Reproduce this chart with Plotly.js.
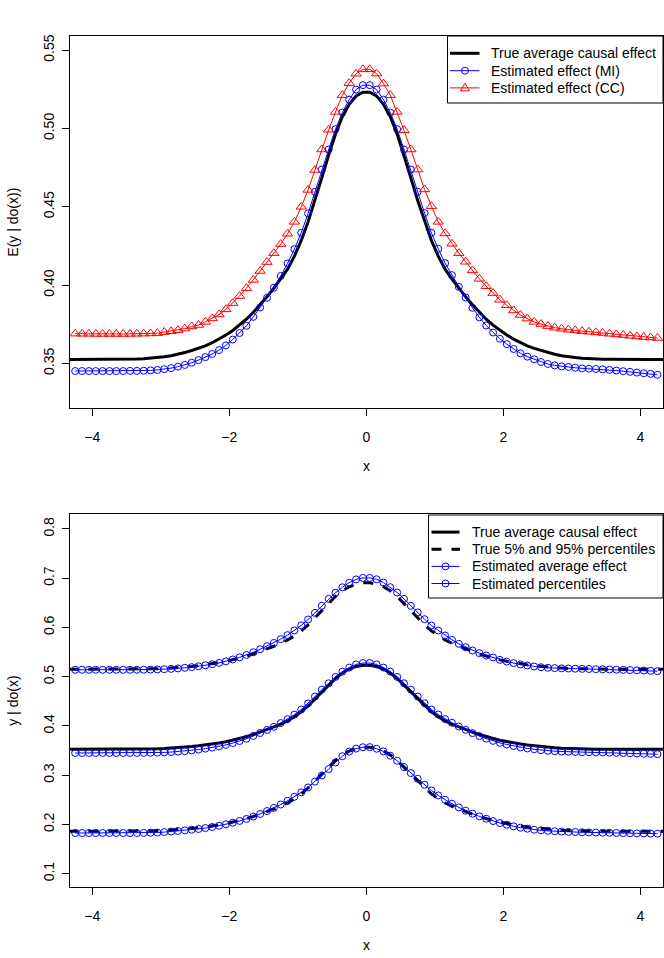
<!DOCTYPE html>
<html>
<head>
<meta charset="utf-8">
<script src="https://cdn.plot.ly/plotly-3.0.1.min.js"></script>
<style>
  body { margin: 0; background: #fff; }
  #chart { width: 664px; height: 958px; }
</style>
</head>
<body>
<div id="chart"></div>
<script>
// x positions: estimates every 0.1 from -4.25 to 4.25, true curves a bit wider
const xEst = [];
for (let i = 0; i < 86; i++) xEst.push(+(-4.25 + 0.1 * i).toFixed(2));
const xTrue = [];
for (let i = 0; i < 88; i++) xTrue.push(+(-4.35 + 0.1 * i).toFixed(2));

// true average causal effect (both panels)
const trueMean = [
  0.3525, 0.3525, 0.3525, 0.3525, 0.3525, 0.3525, 0.3525, 0.3525, 0.3526, 0.3527,
  0.3528, 0.3530, 0.3533, 0.3537, 0.3542, 0.3549, 0.3558, 0.3569, 0.3582, 0.3596,
  0.3612, 0.3632, 0.3655, 0.3681, 0.3710, 0.3744, 0.3782, 0.3826, 0.3874, 0.3925,
  0.3980, 0.4038, 0.4102, 0.4185, 0.4285, 0.4405, 0.4540, 0.4685, 0.4830, 0.4965,
  0.5075, 0.5155, 0.5208, 0.5232,
  0.5232, 0.5208, 0.5155, 0.5075, 0.4965, 0.4830, 0.4685, 0.4540, 0.4405, 0.4285,
  0.4185, 0.4102, 0.4038, 0.3980, 0.3925, 0.3874, 0.3826, 0.3782, 0.3744, 0.3710,
  0.3681, 0.3655, 0.3632, 0.3612, 0.3596, 0.3582, 0.3569, 0.3558, 0.3549, 0.3542,
  0.3537, 0.3533, 0.3530, 0.3528, 0.3527, 0.3526, 0.3525, 0.3525, 0.3525, 0.3525,
  0.3525, 0.3525, 0.3525, 0.3525
];

// estimated effect, multiple imputation (also "Estimated average effect" below)
const estMI = [
  0.3451, 0.3451, 0.3451, 0.3451, 0.3451, 0.3451, 0.3451, 0.3451, 0.3452, 0.3452,
  0.3453, 0.3455, 0.3458, 0.3463, 0.3470, 0.3479, 0.3490, 0.3504, 0.3521, 0.3540,
  0.3560, 0.3585, 0.3615, 0.3652, 0.3694, 0.3740, 0.3797, 0.3857, 0.3919, 0.3983,
  0.4058, 0.4138, 0.4230, 0.4334, 0.4458, 0.4596, 0.4738, 0.4866, 0.4996, 0.5102,
  0.5185, 0.5249, 0.5277,
  0.5277, 0.5249, 0.5185, 0.5102, 0.4996, 0.4866, 0.4738, 0.4596, 0.4460, 0.4334,
  0.4232, 0.4140, 0.4064, 0.3989, 0.3921, 0.3855, 0.3794, 0.3742, 0.3697, 0.3657,
  0.3623, 0.3592, 0.3564, 0.3543, 0.3526, 0.3509, 0.3496, 0.3487, 0.3481, 0.3477,
  0.3472, 0.3468, 0.3466, 0.3464, 0.3462, 0.3458, 0.3454, 0.3450, 0.3446, 0.3441,
  0.3437, 0.3433, 0.3427
];

// estimated effect, complete cases
const estCC = [
  0.3690, 0.3689, 0.3689, 0.3688, 0.3688, 0.3688, 0.3688, 0.3688, 0.3688, 0.3689,
  0.3690, 0.3691, 0.3693, 0.3700, 0.3705, 0.3712, 0.3722, 0.3736, 0.3745, 0.3765,
  0.3787, 0.3812, 0.3845, 0.3885, 0.3930, 0.3980, 0.4033, 0.4090, 0.4147, 0.4204,
  0.4262, 0.4328, 0.4404, 0.4500, 0.4608, 0.4735, 0.4866, 0.4992, 0.5106, 0.5213,
  0.5290, 0.5350, 0.5378,
  0.5378, 0.5351, 0.5287, 0.5213, 0.5106, 0.4989, 0.4866, 0.4738, 0.4611, 0.4504,
  0.4404, 0.4330, 0.4264, 0.4204, 0.4149, 0.4094, 0.4040, 0.3993, 0.3949, 0.3906,
  0.3871, 0.3838, 0.3809, 0.3786, 0.3765, 0.3751, 0.3738, 0.3728, 0.3721, 0.3715,
  0.3711, 0.3706, 0.3702, 0.3698, 0.3694, 0.3689, 0.3685, 0.3681, 0.3676, 0.3672,
  0.3668, 0.3665, 0.3662
];

// true 5% and 95% percentiles
const true95 = [
  0.5150, 0.5150, 0.5150, 0.5150, 0.5150, 0.5150, 0.5150, 0.5150, 0.5151, 0.5152,
  0.5153, 0.5155, 0.5158, 0.5162, 0.5167, 0.5174, 0.5183, 0.5194, 0.5208, 0.5223,
  0.5240, 0.5261, 0.5285, 0.5312, 0.5342, 0.5377, 0.5416, 0.5461, 0.5510, 0.5562,
  0.5618, 0.5678, 0.5744, 0.5828, 0.5930, 0.6052, 0.6190, 0.6337, 0.6484, 0.6632,
  0.6744, 0.6826, 0.6880, 0.6905,
  0.6905, 0.6880, 0.6826, 0.6744, 0.6632, 0.6484, 0.6337, 0.6190, 0.6052, 0.5930,
  0.5828, 0.5744, 0.5678, 0.5618, 0.5562, 0.5510, 0.5461, 0.5416, 0.5377, 0.5342,
  0.5312, 0.5285, 0.5261, 0.5240, 0.5223, 0.5208, 0.5194, 0.5183, 0.5174, 0.5167,
  0.5162, 0.5158, 0.5155, 0.5153, 0.5152, 0.5151, 0.5150, 0.5150, 0.5150, 0.5150,
  0.5150, 0.5150, 0.5150, 0.5150
];
const true05 = [
  0.1860, 0.1860, 0.1860, 0.1860, 0.1860, 0.1860, 0.1860, 0.1860, 0.1861, 0.1862,
  0.1863, 0.1865, 0.1868, 0.1872, 0.1877, 0.1884, 0.1893, 0.1904, 0.1917, 0.1931,
  0.1947, 0.1967, 0.1990, 0.2016, 0.2045, 0.2079, 0.2117, 0.2161, 0.2209, 0.2260,
  0.2315, 0.2373, 0.2437, 0.2520, 0.2620, 0.2740, 0.2875, 0.3020, 0.3165, 0.3300,
  0.3410, 0.3490, 0.3543, 0.3567,
  0.3567, 0.3543, 0.3490, 0.3410, 0.3300, 0.3165, 0.3020, 0.2875, 0.2740, 0.2620,
  0.2520, 0.2437, 0.2373, 0.2315, 0.2260, 0.2209, 0.2161, 0.2117, 0.2079, 0.2045,
  0.2016, 0.1990, 0.1967, 0.1947, 0.1931, 0.1917, 0.1904, 0.1893, 0.1884, 0.1877,
  0.1872, 0.1868, 0.1865, 0.1863, 0.1862, 0.1861, 0.1860, 0.1860, 0.1860, 0.1860,
  0.1860, 0.1860, 0.1860, 0.1860
];

// estimated percentiles
const est95 = [
  0.5141, 0.5140, 0.5140, 0.5140, 0.5140, 0.5140, 0.5140, 0.5140, 0.5140, 0.5141,
  0.5142, 0.5144, 0.5147, 0.5152, 0.5159, 0.5168, 0.5180, 0.5194, 0.5211, 0.5231,
  0.5253, 0.5280, 0.5312, 0.5350, 0.5393, 0.5440, 0.5496, 0.5557, 0.5620, 0.5685,
  0.5762, 0.5844, 0.5938, 0.6042, 0.6162, 0.6296, 0.6440, 0.6580, 0.6705, 0.6815,
  0.6908, 0.6975, 0.7005,
  0.7005, 0.6978, 0.6911, 0.6817, 0.6709, 0.6580, 0.6438, 0.6303, 0.6167, 0.6039,
  0.5937, 0.5836, 0.5748, 0.5667, 0.5599, 0.5532, 0.5478, 0.5430, 0.5390, 0.5342,
  0.5308, 0.5275, 0.5248, 0.5227, 0.5207, 0.5192, 0.5181, 0.5174, 0.5169, 0.5166,
  0.5162, 0.5159, 0.5156, 0.5153, 0.5150, 0.5146, 0.5142, 0.5138, 0.5134, 0.5129,
  0.5124, 0.5118, 0.5112
];
const est05 = [
  0.1826, 0.1826, 0.1826, 0.1826, 0.1826, 0.1826, 0.1826, 0.1826, 0.1826, 0.1826,
  0.1828, 0.1831, 0.1836, 0.1845, 0.1856, 0.1868, 0.1880, 0.1893, 0.1908, 0.1926,
  0.1948, 0.1974, 0.2003, 0.2035, 0.2071, 0.2112, 0.2160, 0.2213, 0.2272, 0.2336,
  0.2405, 0.2480, 0.2562, 0.2652, 0.2752, 0.2870, 0.2995, 0.3125, 0.3260, 0.3385,
  0.3480, 0.3540, 0.3568,
  0.3570, 0.3537, 0.3483, 0.3395, 0.3293, 0.3165, 0.3043, 0.2928, 0.2806, 0.2691,
  0.2590, 0.2502, 0.2421, 0.2346, 0.2279, 0.2218, 0.2164, 0.2116, 0.2069, 0.2029,
  0.1995, 0.1961, 0.1934, 0.1914, 0.1893, 0.1880, 0.1870, 0.1862, 0.1855, 0.1849,
  0.1845, 0.1841, 0.1838, 0.1835, 0.1832, 0.1830, 0.1827, 0.1824, 0.1822, 0.1819,
  0.1817, 0.1814, 0.1812
];

const xTicks = [-4, -2, 0, 2, 4];
const topLegend = ['True average causal effect', 'Estimated effect (MI)', 'Estimated effect (CC)'];
const bottomLegend = ['True average causal effect', 'True 5% and 95% percentiles',
                      'Estimated average effect', 'Estimated percentiles'];

const FONT = 'Liberation Sans, Arial, sans-serif';
const BLUE = '#0000ff';
const RED = '#ff0000';
const W = 664, H = 958;
const M = { l: 70, r: 1, t: 36, b: 71 };

function estTrace(y, name, symbol, color, xa, ya) {
    return {
        x: xEst, y: y, name: name, type: 'scatter', mode: 'lines+markers',
        xaxis: xa, yaxis: ya, showlegend: false,
        line: { color: color, width: 1 },
        marker: { symbol: symbol, size: symbol.startsWith('triangle') ? 9 : 7,
                  color: color, line: { color: color, width: 1 } }
    };
}

const traces = [
    // top panel
    { x: xTrue, y: trueMean, name: topLegend[0], type: 'scatter', mode: 'lines',
      xaxis: 'x', yaxis: 'y', showlegend: false, line: { color: 'black', width: 3 } },
    estTrace(estMI, topLegend[1], 'circle-open', BLUE, 'x', 'y'),
    estTrace(estCC, topLegend[2], 'triangle-up-open', RED, 'x', 'y'),

    // bottom panel
    { x: xTrue, y: trueMean, name: bottomLegend[0], type: 'scatter', mode: 'lines',
      xaxis: 'x2', yaxis: 'y2', showlegend: false, line: { color: 'black', width: 3 } },
    { x: xTrue, y: true95, name: bottomLegend[1], type: 'scatter', mode: 'lines',
      xaxis: 'x2', yaxis: 'y2', showlegend: false,
      line: { color: 'black', width: 3, dash: '10px,10px' } },
    { x: xTrue, y: true05, name: bottomLegend[1], type: 'scatter', mode: 'lines',
      xaxis: 'x2', yaxis: 'y2', showlegend: false,
      line: { color: 'black', width: 3, dash: '10px,10px' } },
    estTrace(estMI, bottomLegend[2], 'circle-open', BLUE, 'x2', 'y2'),
    estTrace(est95, bottomLegend[3], 'circle-open', BLUE, 'x2', 'y2'),
    estTrace(est05, bottomLegend[3], 'circle-open', BLUE, 'x2', 'y2')
];

function xAxis(anchor) {
    return {
        anchor: anchor, range: [-4.326, 4.331], tickvals: xTicks,
        showline: true, mirror: true, linecolor: 'black', linewidth: 1,
        ticks: 'outside', ticklen: 7, tickcolor: 'black', tickwidth: 1, ticklabelstandoff: 9,
        showgrid: false, zeroline: false,
        tickfont: { size: 14, color: 'black' },
        title: { text: 'x', font: { size: 14, color: 'black' }, standoff: 17 }
    };
}

function yAxis(anchor, domain, range, dtick, fmt, title) {
    return {
        anchor: anchor, domain: domain, range: range, dtick: dtick, tick0: 0, tickformat: fmt,
        showline: true, mirror: true, linecolor: 'black', linewidth: 1,
        ticks: 'outside', ticklen: 7, tickcolor: 'black', tickwidth: 1, tickangle: -90,
        ticklabelstandoff: 2, showgrid: false, zeroline: false,
        tickfont: { size: 14, color: 'black' },
        title: { text: title, font: { size: 14, color: 'black' }, standoff: 19 }
    };
}

// pixel -> paper helpers for the hand-drawn (R style) legend boxes
const pw = W - M.l - M.r, ph = H - M.t - M.b;
const px = v => (v - M.l) / pw;
const py = v => (H - M.b - v) / ph;

const shapes = [];
const annotations = [];

function legendBox(left, top, bottom) {
    shapes.push({ type: 'rect', xref: 'paper', yref: 'paper', layer: 'above',
                  x0: px(left), x1: px(W - M.r), y0: py(bottom), y1: py(top),
                  fillcolor: 'white', line: { color: 'black', width: 1 } });
}
function legendLine(x0, x1, y, color, width, dash) {
    shapes.push({ type: 'line', xref: 'paper', yref: 'paper', layer: 'above',
                  x0: px(x0), x1: px(x1), y0: py(y), y1: py(y),
                  line: { color: color, width: width, dash: dash || 'solid' } });
}
function legendSymbol(cx, cy, kind, color) {
    const s = { xref: 'paper', yref: 'paper', layer: 'above', xsizemode: 'pixel', ysizemode: 'pixel',
                xanchor: px(cx), yanchor: py(cy), line: { color: color, width: 1 },
                fillcolor: 'rgba(0,0,0,0)' };
    if (kind === 'circle') Object.assign(s, { type: 'circle', x0: -3.5, x1: 3.5, y0: -3.5, y1: 3.5 });
    else Object.assign(s, { type: 'path', path: 'M-4.5,-3 L4.5,-3 L0,4.8 Z' });
    shapes.push(s);
}
function legendText(x, y, text) {
    annotations.push({ xref: 'paper', yref: 'paper', x: px(x), y: py(y), xanchor: 'left', yanchor: 'middle',
                       text: text, showarrow: false, font: { family: FONT, size: 14, color: 'black' } });
}

// top legend
legendBox(447.5, 36, 103);
[53.3, 70.7, 87.9].forEach((y, i) => {
    if (i === 0) legendLine(450, 479.5, y, 'black', 3);
    else {
        const c = i === 1 ? BLUE : RED;
        legendLine(450, 479.5, y, c, 1);
        legendSymbol(465, y, i === 1 ? 'circle' : 'triangle', c);
    }
    legendText(489, y, topLegend[i]);
});

// bottom legend
legendBox(428.5, 515, 598);
[532.1, 549.3, 566.4, 583.5].forEach((y, i) => {
    if (i === 0) legendLine(431.5, 459.5, y, 'black', 3);
    else if (i === 1) legendLine(431.5, 460, y, 'black', 3, '10px,10px');
    else {
        legendLine(431.5, 459.5, y, BLUE, 1);
        legendSymbol(445.5, y, 'circle', BLUE);
    }
    legendText(470, y, bottomLegend[i]);
});

const layout = {
    width: W, height: H,
    margin: M,
    paper_bgcolor: 'white', plot_bgcolor: 'white',
    font: { family: FONT, size: 14, color: 'black' },
    showlegend: false,
    xaxis: xAxis('y'),
    yaxis: yAxis('x', [0.5625, 1], [0.3213, 0.5591], 0.05, '.2f', 'E(y | do(x))'),
    xaxis2: xAxis('y2'),
    yaxis2: yAxis('x2', [0, 0.438], [0.073, 0.8298], 0.1, '.1f', 'y | do(x)'),
    shapes: shapes,
    annotations: annotations
};

Plotly.newPlot('chart', traces, layout, { displayModeBar: false, staticPlot: true });
</script>
</body>
</html>
